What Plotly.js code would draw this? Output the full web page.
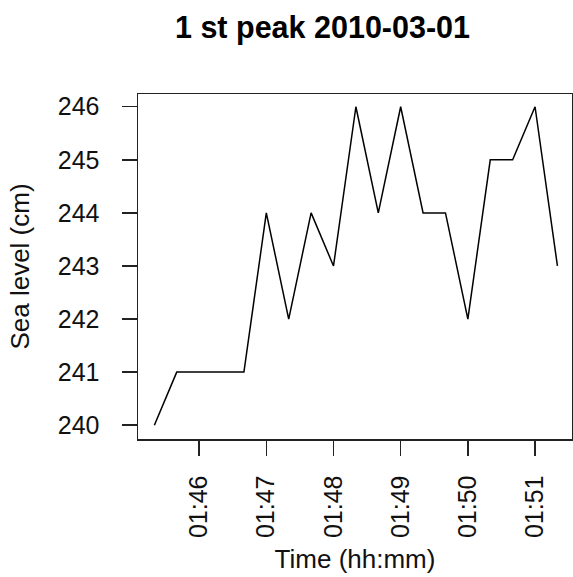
<!DOCTYPE html>
<html>
<head>
<meta charset="utf-8">
<script src="https://cdn.plot.ly/plotly-3.0.1.min.js"></script>
<style>html,body{margin:0;padding:0;background:#fff;}#chart{width:573px;height:577px;}</style>
</head>
<body>
<div id="chart"></div>
<script>
const times = [
  "2010-03-01 01:45:20", "2010-03-01 01:45:40", "2010-03-01 01:46:00", "2010-03-01 01:46:20",
  "2010-03-01 01:46:40", "2010-03-01 01:47:00", "2010-03-01 01:47:20", "2010-03-01 01:47:40",
  "2010-03-01 01:48:00", "2010-03-01 01:48:20", "2010-03-01 01:48:40", "2010-03-01 01:49:00",
  "2010-03-01 01:49:20", "2010-03-01 01:49:40", "2010-03-01 01:50:00", "2010-03-01 01:50:20",
  "2010-03-01 01:50:40", "2010-03-01 01:51:00", "2010-03-01 01:51:20"
];
const seaLevel = [240, 241, 241, 241, 241, 244, 242, 244, 243, 246, 244, 246, 244, 244, 242, 245, 245, 246, 243];
const yTicks = [240, 241, 242, 243, 244, 245, 246];
const titleText = "1 st peak 2010-03-01";
const xTitle = "Time (hh:mm)";
const yTitle = "Sea level (cm)";

const font = "Liberation Sans, Arial, sans-serif";
const trace = {
  x: times, y: seaLevel, type: "scatter", mode: "lines",
  line: {color: "#000", width: 1.5}, hoverinfo: "x+y"
};
const layout = {
  width: 573, height: 577,
  margin: {l: 138, r: 1, t: 94, b: 138, pad: 0},
  paper_bgcolor: "#fff", plot_bgcolor: "#fff",
  showlegend: false,
  font: {family: font, color: "#111", size: 25},
  title: {
    text: "<b>" + titleText + "</b>",
    font: {family: font, size: 30.5, color: "#000"},
    xref: "container", x: 322.5 / 573, xanchor: "center",
    yref: "container", y: 1 - 27 / 577, yanchor: "middle"
  },
  xaxis: {
    type: "date",
    range: ["2010-03-01 01:45:05.4", "2010-03-01 01:51:33"],
    tickmode: "linear", tick0: "2010-03-01 01:46:00", dtick: 60000,
    tickformat: "%H:%M", tickangle: -90,
    ticks: "outside", ticklen: 15, tickwidth: 1.5, tickcolor: "#222",
    showline: true, linecolor: "#222", linewidth: 1.5, mirror: true,
    showgrid: false, zeroline: false,
    ticklabelstandoff: 10,
    tickfont: {size: 25, color: "#111"},
    automargin: false,
    title: {text: xTitle, font: {size: 26, color: "#111"}, standoff: 12}
  },
  yaxis: {
    range: [239.74, 246.24],
    tickmode: "array", tickvals: yTicks, ticktext: yTicks.map(String),
    ticks: "outside", ticklen: 15, tickwidth: 1.5, tickcolor: "#222",
    showline: true, linecolor: "#222", linewidth: 1.5, mirror: true,
    showgrid: false, zeroline: false,
    ticklabelstandoff: 17,
    tickfont: {size: 25, color: "#111"},
    automargin: false,
    title: {text: yTitle, font: {size: 26, color: "#111"}, standoff: 20}
  }
};
Plotly.newPlot("chart", [trace], layout, {displayModeBar: false, staticPlot: true});
</script>
</body>
</html>
